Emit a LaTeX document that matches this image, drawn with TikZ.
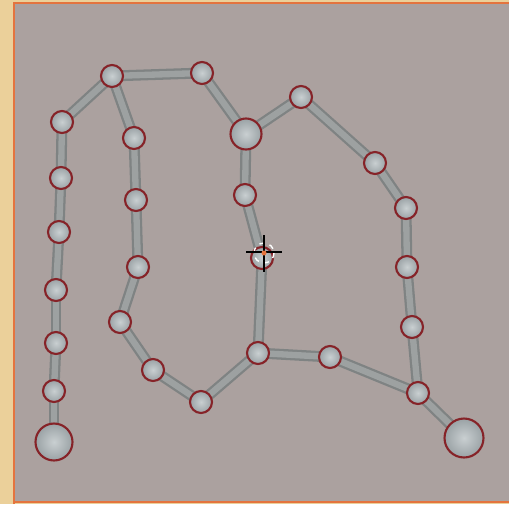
\documentclass[tikz,border=0pt]{standalone}
\usepackage{tikz}
\usetikzlibrary{backgrounds}
\definecolor{parch}{HTML}{EBD09A}
\definecolor{panelgray}{HTML}{ABA19F}
\definecolor{rimorange}{HTML}{E4743E}
\definecolor{rimred}{HTML}{862328}
\definecolor{ballin}{HTML}{C9CFD1}
\definecolor{ballout}{HTML}{9AA2A5}
\definecolor{roddark}{HTML}{7F8383}
\definecolor{rodlight}{HTML}{9DA1A1}

\begin{document}
\begin{tikzpicture}[
  x=0.02cm,y=-0.02cm,
  ball/.style={circle,draw=rimred,line width=1.2pt,inner color=ballin,outer color=ballout,
    inner sep=0pt,minimum size=0.44cm},
  bigball/.style={ball,minimum size=0.62cm},
  hugeball/.style={ball,minimum size=0.74cm},
  rod/.style={draw=roddark,line width=6.2pt},
  rodhi/.style={draw=rodlight,line width=3.6pt}
]
\useasboundingbox (0,0) rectangle (509,504);
\begin{scope}[on background layer]
  \fill[parch] (0,0) rectangle (509,504);
  \fill[panelgray] (14,3) rectangle (509,502);
  \draw[rimorange,line width=1pt] (14,504) -- (14,3) -- (509,3);
  \draw[rimorange,line width=1pt] (14,502) -- (509,502);
\end{scope}
% left column
\node[hugeball] (l1) at (54,442) {};
\node[ball] (l2) at (54,391) {};
\node[ball] (l3) at (56,343) {};
\node[ball] (l4) at (56,290) {};
\node[ball] (l5) at (59,232) {};
\node[ball] (l6) at (61,178) {};
\node[ball] (l7) at (62,122) {};
\node[ball] (t1) at (112,76) {};
\node[ball] (t2) at (202,73) {};
% inner loop
\node[ball] (m1) at (134,138) {};
\node[ball] (m2) at (136,200) {};
\node[ball] (m3) at (138,267) {};
\node[ball] (m4) at (120,322) {};
\node[ball] (m5) at (153,370) {};
\node[ball] (m6) at (201,402) {};
\node[ball] (j) at (258,353) {};
% middle spine
\node[bigball] (c) at (246,134) {};
\node[ball] (c2) at (245,195) {};
\node[ball] (s) at (262,258) {};
% right arc
\node[ball] (r1) at (301,97) {};
\node[ball] (r2) at (375,163) {};
\node[ball] (r3) at (406,208) {};
\node[ball] (r4) at (407,267) {};
\node[ball] (r5) at (412,327) {};
\node[ball] (r6) at (418,393) {};
\node[ball] (b1) at (330,357) {};
\node[hugeball,minimum size=0.78cm] (e) at (464,438) {};
% selection marker
\draw[white,dashed,line width=0.8pt] (264,253) circle (10);
\draw[black,line width=0.8pt] (246,252) -- (282,252);
\draw[black,line width=0.8pt] (264,235) -- (264,272);
\fill[rimorange] (264,253) circle (2.5);
% rods
\begin{scope}[on background layer]
  \foreach \a/\b in {l1/l2,l2/l3,l3/l4,l4/l5,l5/l6,l6/l7,l7/t1,t1/t2,t2/c,
    t1/m1,m1/m2,m2/m3,m3/m4,m4/m5,m5/m6,m6/j,
    c/c2,c2/s,s/j,c/r1,r1/r2,r2/r3,r3/r4,r4/r5,r5/r6,r6/e,j/b1,b1/r6}
  {
    \draw[rod] (\a.center) -- (\b.center);
    \draw[rodhi] (\a.center) -- (\b.center);
  }
\end{scope}
\end{tikzpicture}
\end{document}
